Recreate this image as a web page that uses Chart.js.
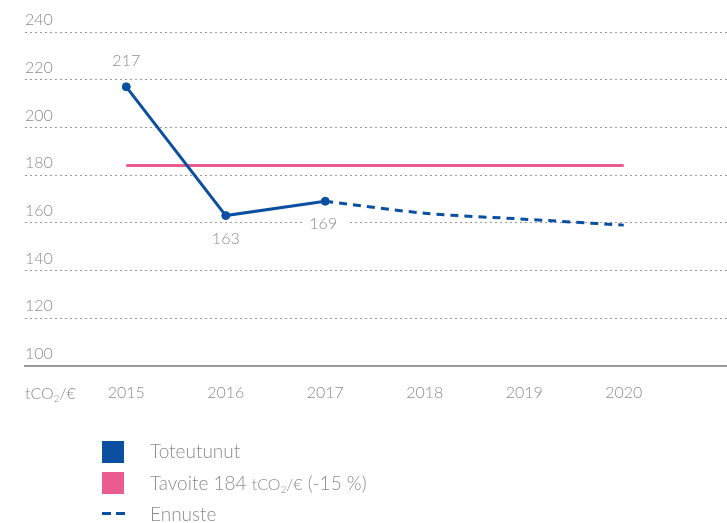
<!DOCTYPE html>
<html>
<head>
<meta charset="utf-8">
<script src="https://cdn.jsdelivr.net/npm/chart.js@4"></script>
<style>
  body { margin: 0; background: #fff; font-family: Lato, "Open Sans", sans-serif; font-weight: 300; color: #8c8c8c; }
  #wrap { position: relative; width: 727px; height: 523px; overflow: hidden; }
  canvas { display: block; }
  #unit { position: absolute; left: 25px; top: 383px; font-size: 16px; }
  sub { font-size: 10px; vertical-align: -3px; line-height: 0; }
  .leg { position: absolute; left: 102px; font-size: 19px; }
  .leg .sw { position: absolute; left: 0; width: 22px; height: 22px; }
  .leg .tx { position: absolute; left: 48px; white-space: nowrap; }
  .small { font-size: 16px; }
</style>
</head>
<body>
<div id="wrap">
  <canvas id="myChart" width="734" height="523"></canvas>
  <div id="unit">tCO<sub>2</sub>/€</div>
  <div class="leg" style="top:441px"><div class="sw" style="background:#0a4fa0"></div><div class="tx" style="top:-2px">Toteutunut</div></div>
  <div class="leg" style="top:472px"><div class="sw" style="background:#eb5b8e"></div><div class="tx" style="top:-1px">Tavoite 184 <span class="small">tCO<sub>2</sub>/€</span> (-15 %)</div></div>
  <div class="leg" style="top:512px">
    <div style="position:absolute;left:0;top:0;width:9px;height:3px;background:#0a4fa0"></div>
    <div style="position:absolute;left:14px;top:0;width:9px;height:3px;background:#0a4fa0"></div>
    <div class="tx" style="top:-10px">Ennuste</div>
  </div>
</div>
<script>
// data
var years = [2015, 2016, 2017, 2018, 2019, 2020];
var actual = [217, 163, 169];          // Toteutunut 2015-2017
var forecast = [169, 164, 161.5, 159]; // Ennuste 2017-2020
var target = 184;                       // Tavoite
var yTicks = [100, 120, 140, 160, 180, 200, 220, 240];
var labelAbove = [true, false, false];

var blue = "#0a4fa0";
var pink = "#eb5b8e";
var grey = "#8c8c8c";

// value labels with white background
var valueLabels = {
  id: "valueLabels",
  afterDatasetsDraw: function (chart) {
    var ctx = chart.ctx;
    var meta = chart.getDatasetMeta(0);
    ctx.save();
    ctx.font = "300 16px Lato, 'Open Sans', sans-serif";
    ctx.textAlign = "center";
    ctx.textBaseline = "middle";
    meta.data.forEach(function (pt, i) {
      var txt = String(actual[i]);
      var y = labelAbove[i] ? pt.y - 26 : pt.y + 23;
      var w = ctx.measureText(txt).width;
      ctx.fillStyle = "#fff";
      ctx.fillRect(pt.x - w / 2 - 9, y - 9, w + 18, 18);
      ctx.fillStyle = grey;
      ctx.fillText(txt, pt.x - (i === 2 ? 2 : 0), y);
    });
    ctx.restore();
  }
};

var ctx = document.getElementById("myChart").getContext("2d");
var chart = new Chart(ctx, {
  type: "line",
  data: {
    datasets: [
      {
        label: "Toteutunut",
        data: actual.map(function (v, i) { return { x: years[i], y: v }; }),
        borderColor: blue,
        backgroundColor: blue,
        borderWidth: 3,
        pointRadius: 4,
        pointBorderWidth: 1,
        pointHoverRadius: 4,
        order: 0
      },
      {
        label: "Ennuste",
        data: forecast.map(function (v, i) { return { x: years[i + 2], y: v }; }),
        borderColor: blue,
        borderWidth: 3,
        borderDash: [8, 6],
        pointRadius: 0,
        tension: 0.3,
        order: 1
      },
      {
        label: "Tavoite",
        data: [{ x: years[0], y: target }, { x: years[years.length - 1], y: target }],
        borderColor: pink,
        borderWidth: 3,
        pointRadius: 0,
        order: 2
      }
    ]
  },
  options: {
    responsive: false,
    animation: false,
    layout: { padding: { left: 25, right: 0, top: 32, bottom: 104 } },
    plugins: { legend: { display: false }, tooltip: { enabled: false } },
    scales: {
      x: {
        type: "linear",
        min: 2013.982,
        max: 2021.058,
        afterBuildTicks: function (axis) {
          axis.ticks = years.map(function (v) { return { value: v }; });
        },
        grid: { display: false, drawTicks: false },
        border: { display: true, color: "#9a9a9a", width: 2 },
        ticks: {
          color: grey,
          padding: 17,
          maxRotation: 0,
          font: { family: "Lato, 'Open Sans', sans-serif", size: 16, weight: 300 },
          callback: function (v) { return String(v); }
        }
      },
      y: {
        min: 100,
        max: 240,
        afterBuildTicks: function (axis) {
          axis.ticks = yTicks.map(function (v) { return { value: v }; });
        },
        grid: { color: "#9a9a9a", lineWidth: 1, drawTicks: false },
        border: { display: false, dash: [2, 3] },
        ticks: {
          mirror: true,
          padding: 0,
          labelOffset: -12,
          color: grey,
          font: { family: "Lato, 'Open Sans', sans-serif", size: 16, weight: 300 }
        }
      }
    }
  },
  plugins: [valueLabels]
});
</script>
</body>
</html>
